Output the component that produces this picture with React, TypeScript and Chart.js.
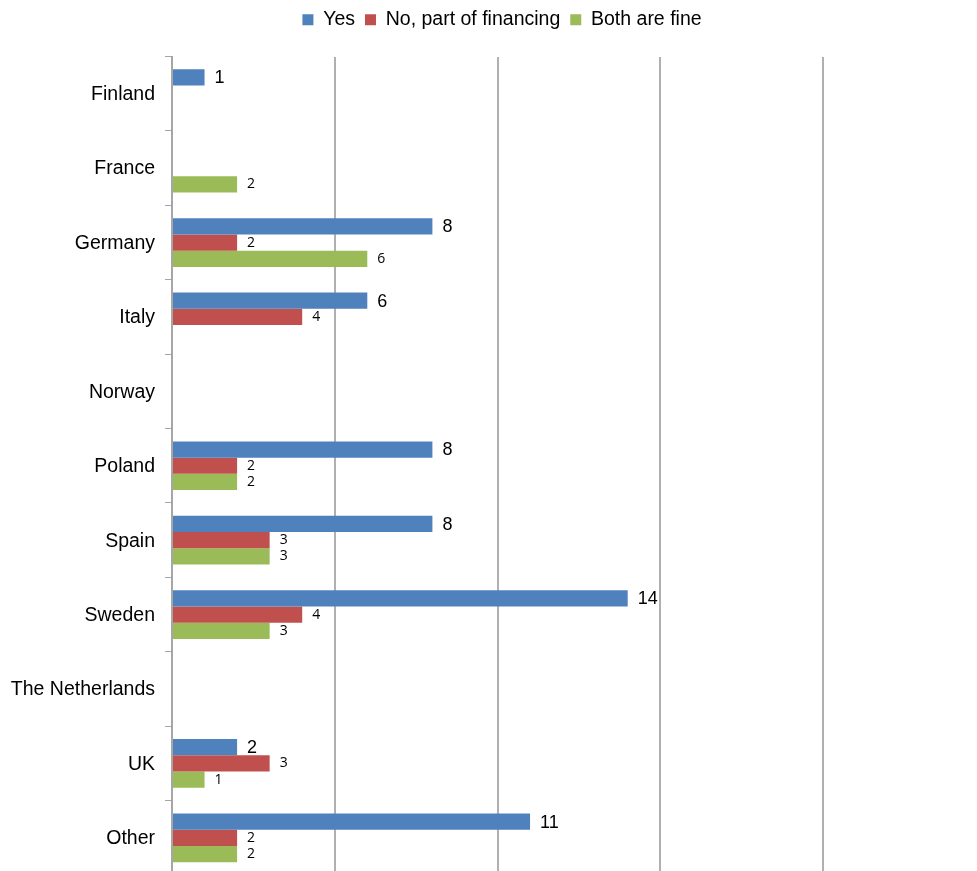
import React, { useEffect, useRef } from "react";
import { Chart, registerables } from "chart.js";

Chart.register(...registerables);

const categories = [
  "Finland",
  "France",
  "Germany",
  "Italy",
  "Norway",
  "Poland",
  "Spain",
  "Sweden",
  "The Netherlands",
  "UK",
  "Other",
];
const yesValues = [1, null, 8, 6, null, 8, 8, 14, null, 2, 11];
const noValues = [null, null, 2, 4, null, 2, 3, 4, null, 3, 2];
const bothValues = [null, 2, 6, null, null, 2, 3, 3, null, 1, 2];
const seriesNames = ["Yes", "No, part of financing", "Both are fine"];
const seriesColors = ["#4F81BD", "#C0504D", "#9BBB59"];
const xTicks = [0, 5, 10, 15, 20];

const SANS = '"Liberation Sans", Arial, sans-serif';

const labelPlugin = {
  id: "barValueLabels",
  afterDatasetsDraw(chart: any) {
    const ctx = chart.ctx;
    ctx.save();
    ctx.textAlign = "left";
    ctx.textBaseline = "middle";
    ctx.fillStyle = "#000";
    chart.data.datasets.forEach((ds: any, i: number) => {
      const meta = chart.getDatasetMeta(i);
      ctx.font = i === 0 ? `18px ${SANS}` : `14px "Open Sans", sans-serif`;
      meta.data.forEach((el: any, j: number) => {
        const v = ds.data[j];
        if (v === null || v === undefined || v === 0) return;
        ctx.fillText(String(v), el.x + 10, el.y + (i === 0 ? 1 : 0));
      });
    });
    ctx.restore();
  },
};

export default function App() {
  const ref = useRef<HTMLCanvasElement | null>(null);

  useEffect(() => {
    if (!ref.current) return;
    const data = [yesValues, noValues, bothValues];
    const chart = new Chart(ref.current, {
      type: "bar",
      data: {
        labels: categories,
        datasets: data.map((vals, i) => ({
          label: seriesNames[i],
          data: vals,
          backgroundColor: seriesColors[i],
          borderWidth: 0,
          xAxisID: "x",
          yAxisID: "y",
          categoryPercentage: 0.655,
          barPercentage: 1,
        })),
      },
      options: {
        indexAxis: "y",
        responsive: false,
        animation: false,
        devicePixelRatio: 1,
        layout: { padding: { left: 0, right: -27, top: 0, bottom: 5 } },
        plugins: {
          legend: {
            position: "top",
            align: "center",
            labels: {
              boxWidth: 11,
              boxHeight: 11,
              padding: 10,
              color: "#000",
              font: { size: 19.5, family: SANS },
            },
          },
          tooltip: { enabled: false },
        },
        scales: {
          x: {
            type: "linear",
            position: "top",
            min: xTicks[0],
            max: xTicks[xTicks.length - 1],
            afterBuildTicks: (s: any) => {
              s.ticks = xTicks.map((v) => ({ value: v }));
            },
            ticks: { display: false },
            grid: {
              display: true,
              drawTicks: false,
              color: "#b0b0b0",
              lineWidth: 2,
            },
            border: { display: false },
            afterFit: (s: any) => {
              s.height = 17;
              s.paddingLeft = 0;
              s.paddingRight = 0;
            },
          },
          y: {
            type: "category",
            position: "left",
            offset: true,
            grid: {
              display: true,
              offset: true,
              drawOnChartArea: false,
              drawTicks: true,
              tickLength: 7,
              color: "#a6a6a6",
              lineWidth: 1,
            },
            border: { display: true, color: "#a6a6a6", width: 2 },
            ticks: {
              color: "#000",
              font: { size: 19.5, family: SANS },
              padding: 10,
              labelOffset: 1,
              autoSkip: false,
            },
            afterFit: (s: any) => {
              s.width = 172;
              s.paddingTop = 0;
              s.paddingBottom = 0;
            },
          },
          y2: {
            type: "linear",
            position: "right",
            display: true,
            grid: { display: false },
            ticks: { display: false },
            border: { display: false },
            afterFit: (s: any) => {
              s.width = 181;
              s.paddingTop = 0;
              s.paddingBottom = 0;
            },
          },
        },
      },
      plugins: [labelPlugin],
    } as any);
    return () => chart.destroy();
  }, []);

  return (
    <div
      style={{
        position: "fixed",
        top: 0,
        left: 0,
        width: 977,
        height: 871,
        overflow: "hidden",
        background: "#fff",
      }}
    >
      <canvas ref={ref} width={977} height={880} style={{ display: "block" }} />
    </div>
  );
}
